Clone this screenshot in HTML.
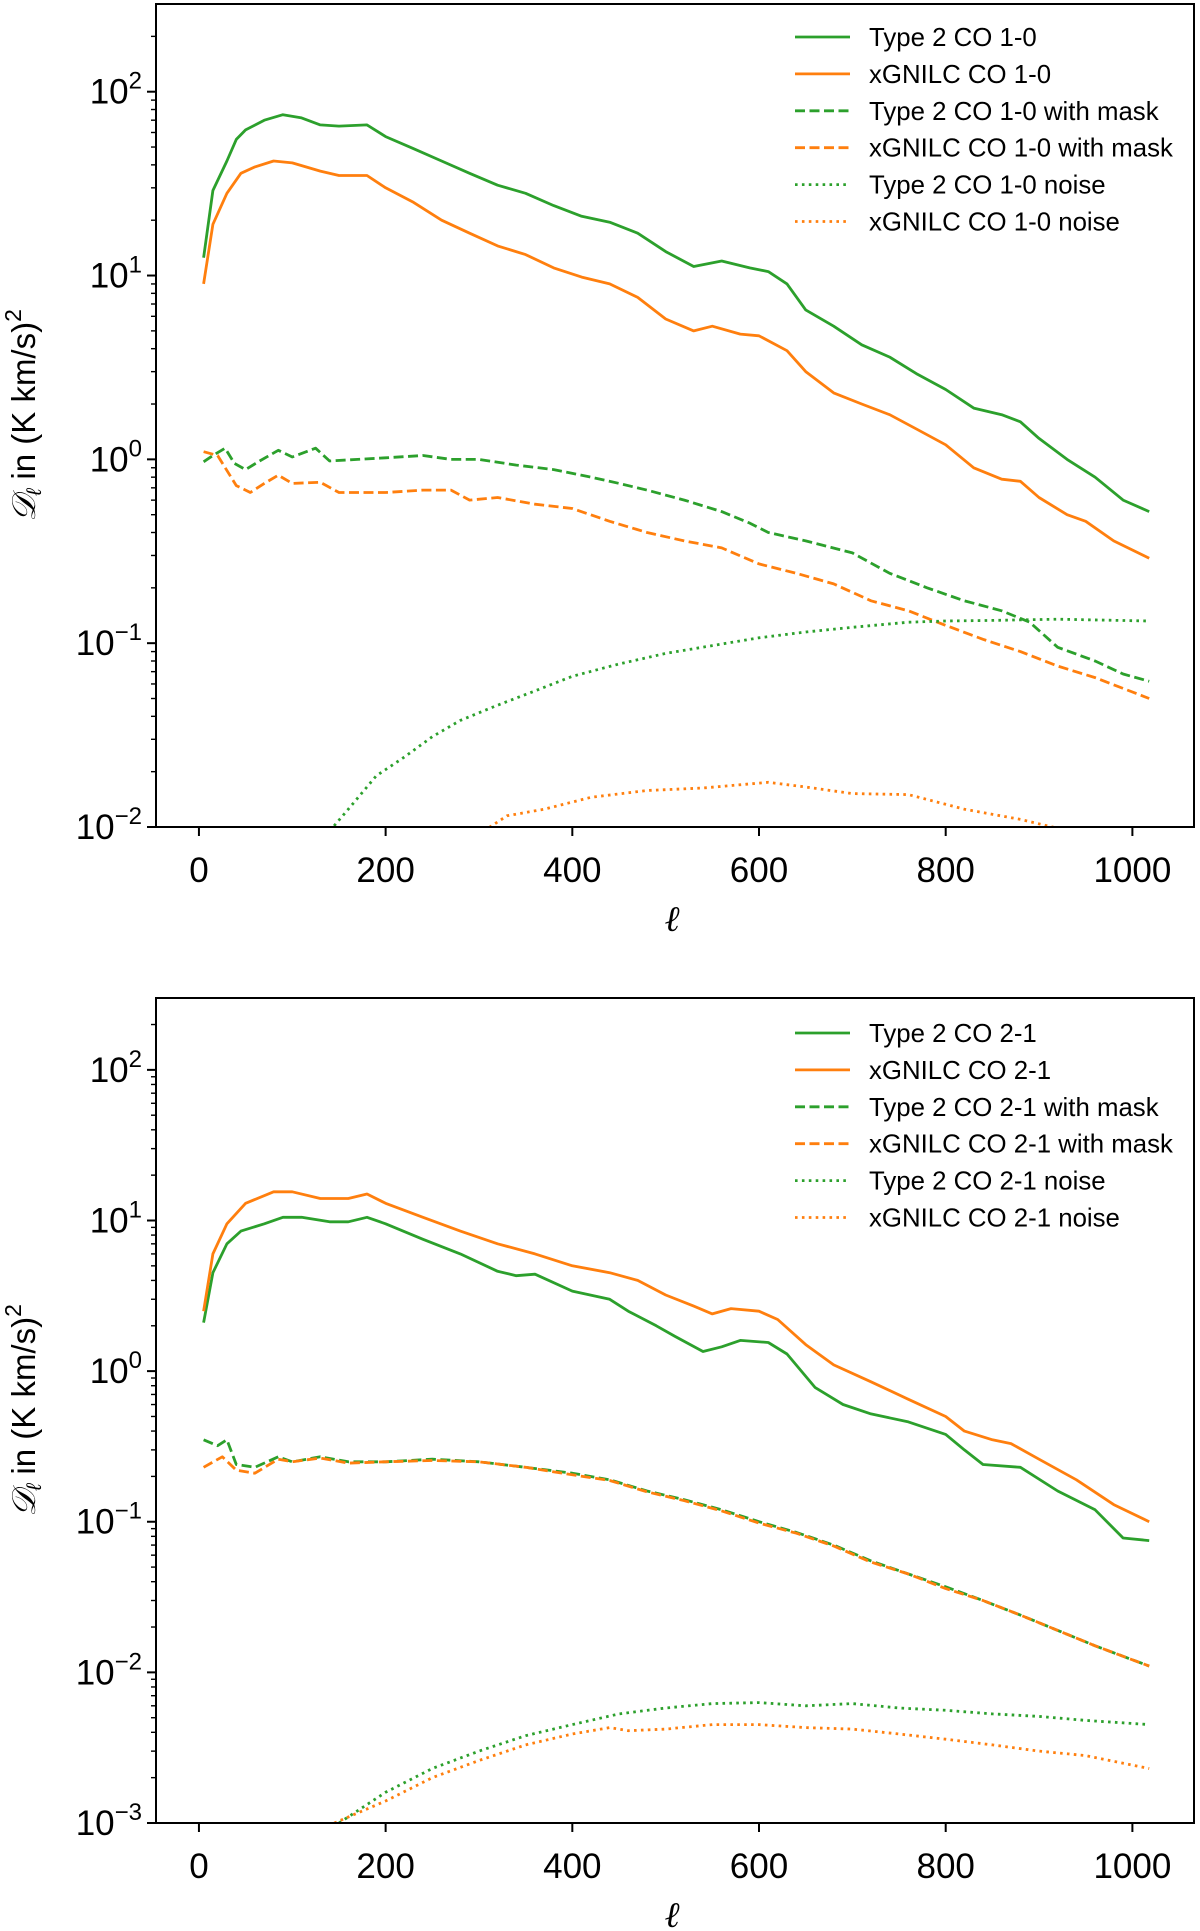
<!DOCTYPE html>
<html><head><meta charset="utf-8">
<style>
html,body{margin:0;padding:0;background:#fff;}
svg{display:block;font-family:"Liberation Sans",sans-serif;}
</style></head>
<body>
<svg id="fig" width="1200" height="1931" viewBox="0 0 1200 1931" xmlns="http://www.w3.org/2000/svg"></svg>
<script>
// ---- data (top panel: CO 1-0) ----
const t_g_sol_l = [5,15,30,40,50,70,90,110,130,150,180,200,230,260,290,320,350,380,410,440,470,500,530,560,590,610,630,650,680,710,740,770,800,830,860,880,900,930,960,990,1018];
const t_g_sol_v = [12.5,29,42,55,62,70,75,72,66,65,66,57,49,42,36,31,28,24,21,19.5,17,13.5,11.2,12,11,10.5,9,6.5,5.3,4.2,3.6,2.9,2.4,1.9,1.75,1.6,1.3,1.0,0.8,0.6,0.52];
const t_o_sol_l = [5,15,30,45,60,80,100,130,150,180,200,230,260,290,320,350,380,410,440,470,500,530,550,580,600,630,650,680,710,740,770,800,830,860,880,900,930,950,980,1018];
const t_o_sol_v = [9,19,28,36,39,42,41,37,35,35,30,25,20,17,14.5,13,11,9.8,9,7.6,5.8,5.0,5.3,4.8,4.7,3.9,3.0,2.3,2.0,1.75,1.45,1.2,0.9,0.78,0.76,0.62,0.5,0.46,0.36,0.29];
const t_g_msk_l = [5,15,28,38,50,65,85,100,125,140,170,200,240,270,300,340,380,420,450,480,520,560,590,610,650,700,740,780,820,860,890,920,960,990,1018];
const t_g_msk_v = [0.97,1.05,1.15,0.95,0.88,0.98,1.12,1.03,1.15,0.98,1.0,1.02,1.05,1.0,1.0,0.93,0.88,0.8,0.74,0.68,0.6,0.52,0.45,0.4,0.36,0.31,0.24,0.2,0.17,0.15,0.13,0.095,0.08,0.068,0.062];
const t_o_msk_l = [5,20,40,55,70,85,100,130,150,200,240,270,290,320,360,400,440,480,520,560,600,640,680,720,760,800,840,880,920,960,1018];
const t_o_msk_v = [1.1,1.05,0.72,0.66,0.74,0.82,0.74,0.75,0.66,0.66,0.68,0.68,0.6,0.62,0.57,0.54,0.46,0.4,0.36,0.33,0.27,0.24,0.21,0.17,0.15,0.125,0.105,0.09,0.075,0.065,0.05];
const t_g_noi_l = [140,160,190,220,250,280,320,360,400,450,500,550,600,650,700,760,800,850,920,1018];
const t_g_noi_v = [0.0095,0.0125,0.019,0.024,0.031,0.038,0.046,0.055,0.066,0.077,0.088,0.097,0.107,0.115,0.122,0.13,0.132,0.133,0.135,0.132];
const t_o_noi_l = [305,330,370,420,480,540,610,650,700,760,820,880,925];
const t_o_noi_v = [0.0095,0.0115,0.0125,0.0145,0.0158,0.0163,0.0175,0.0165,0.0152,0.015,0.0125,0.011,0.0097];
// ---- data (bottom panel: CO 2-1) ----
const b_o_sol_l = [5,15,30,50,80,100,130,160,180,200,240,280,320,360,400,440,470,500,530,550,570,600,620,650,680,720,760,800,820,850,870,900,940,980,1018];
const b_o_sol_v = [2.5,6,9.5,13,15.5,15.5,14,14,15,13,10.5,8.5,7,6,5,4.5,4,3.2,2.7,2.4,2.6,2.5,2.2,1.5,1.1,0.85,0.65,0.5,0.4,0.35,0.33,0.26,0.19,0.13,0.1];
const b_g_sol_l = [5,15,30,45,70,90,110,140,160,180,200,240,280,320,340,360,400,440,460,490,510,540,560,580,610,630,660,690,720,760,800,820,840,880,920,960,990,1018];
const b_g_sol_v = [2.1,4.5,7,8.5,9.5,10.5,10.5,9.8,9.8,10.5,9.5,7.5,6,4.6,4.3,4.4,3.4,3.0,2.5,2.0,1.7,1.35,1.45,1.6,1.55,1.3,0.78,0.6,0.52,0.46,0.38,0.3,0.24,0.23,0.16,0.12,0.078,0.075];
const b_g_msk_l = [5,20,30,40,60,85,100,130,160,200,250,300,350,400,440,480,520,560,600,640,680,720,760,800,840,880,920,960,1018];
const b_g_msk_v = [0.35,0.32,0.35,0.24,0.23,0.27,0.25,0.27,0.25,0.25,0.26,0.25,0.23,0.21,0.19,0.16,0.14,0.12,0.1,0.085,0.07,0.055,0.045,0.037,0.03,0.024,0.019,0.015,0.011];
const b_o_msk_l = [5,25,40,60,85,100,130,160,200,250,300,350,400,440,480,520,560,600,640,680,720,760,800,840,880,920,960,1018];
const b_o_msk_v = [0.23,0.27,0.22,0.21,0.26,0.25,0.265,0.245,0.25,0.255,0.25,0.23,0.205,0.188,0.158,0.138,0.118,0.098,0.084,0.069,0.054,0.045,0.036,0.03,0.024,0.019,0.015,0.011];
const b_g_noi_l = [150,200,250,300,350,400,450,500,550,600,650,700,750,800,850,900,950,1018];
const b_g_noi_v = [0.001,0.0016,0.0023,0.003,0.0038,0.0045,0.0053,0.0058,0.0062,0.0063,0.006,0.0062,0.0058,0.0056,0.0053,0.0051,0.0048,0.0045];
const b_o_noi_l = [145,200,250,300,350,400,440,460,500,550,600,650,700,750,800,850,900,950,1018];
const b_o_noi_v = [0.001,0.0014,0.002,0.0026,0.0033,0.0039,0.0043,0.0041,0.0042,0.0045,0.0045,0.0043,0.0042,0.0039,0.0036,0.0033,0.003,0.0028,0.0023];
const xTicks = [0,200,400,600,800,1000];
const topLegend = ["Type 2 CO 1-0","xGNILC CO 1-0","Type 2 CO 1-0 with mask","xGNILC CO 1-0 with mask","Type 2 CO 1-0 noise","xGNILC CO 1-0 noise"];
const botLegend = ["Type 2 CO 2-1","xGNILC CO 2-1","Type 2 CO 2-1 with mask","xGNILC CO 2-1 with mask","Type 2 CO 2-1 noise","xGNILC CO 2-1 noise"];
const topDecades = [-2,-1,0,1,2];
const botDecades = [-3,-2,-1,0,1,2];

const NS="http://www.w3.org/2000/svg";
const svg=document.getElementById('fig');
const G="#2ca02c", O="#ff7f0e";
function mk(tag,attrs,parent){const e=document.createElementNS(NS,tag);for(const k in attrs)e.setAttribute(k,attrs[k]);(parent||svg).appendChild(e);return e;}

function panel(id,top,bottom,logMin,logMax,decades,series,legend,legTop){
  const L=156,R=1194;
  const X=l=>L+(l+46)/(1112)*(R-L);
  const Y=v=>bottom-(Math.log10(v)-logMin)/(logMax-logMin)*(bottom-top);
  const g=mk('g',{});
  
  
  const cp=mk('clipPath',{id:id+'clip'},g);
  mk('rect',{x:L,y:top,width:R-L,height:bottom-top},cp);
  series.forEach(s=>{
    const d=s.l.map((l,i)=>(i?'L':'M')+X(l).toFixed(1)+','+Y(s.v[i]).toFixed(1)).join('');
    const p=mk('path',{d:d,fill:'none',stroke:s.c,'stroke-width':2.8,'stroke-linejoin':'round','clip-path':'url(#'+id+'clip)','stroke-dasharray':s.dash||'none'},g);
    
    
  });
  const fr=mk('rect',{x:L,y:top,width:R-L,height:bottom-top,fill:'none',stroke:'#000','stroke-width':2},g);
  
  
  xTicks.forEach(t=>{
    mk('line',{x1:X(t),x2:X(t),y1:bottom,y2:bottom+9,stroke:'#000','stroke-width':2},g);
    const tx=mk('text',{x:X(t),y:bottom+55,'font-size':35,'text-anchor':'middle'},g);
    tx.textContent=t;
    
    
  });
  decades.forEach(d=>{
    const y=Y(Math.pow(10,d));
    mk('line',{x1:L-9,x2:L,y1:y,y2:y,stroke:'#000','stroke-width':2},g);
    const tx=mk('text',{x:L-14,y:y+12,'font-size':35,'text-anchor':'end'},g);
    
    
    const a=document.createElementNS(NS,'tspan');a.textContent='10';tx.appendChild(a);
    const b=document.createElementNS(NS,'tspan');b.setAttribute('dy','-15');b.setAttribute('font-size','24');b.textContent=(d<0?'\u2212'+(-d):String(d));tx.appendChild(b);
  });
  for(let d=logMin-1;d<logMax;d++){for(let m=2;m<10;m++){const lv=d+Math.log10(m);if(lv<=logMin||lv>=logMax)continue;const y=Y(Math.pow(10,lv));mk('line',{x1:L-5,x2:L,y1:y,y2:y,stroke:'#000','stroke-width':1.4},g);}}
  const xl=mk('text',{x:(L+R)/2-3,y:bottom+104,'font-size':36,'font-style':'italic','font-family':'Liberation Serif,serif','text-anchor':'middle'},g);
  xl.textContent='ℓ';
  
  
  const cy=(top+bottom)/2;
  const yl=mk('text',{x:0,y:0,'font-size':33,'text-anchor':'middle',transform:'translate(35,'+cy+') rotate(-90)'},g);
  
  
  const s1=document.createElementNS(NS,'tspan');s1.setAttribute('font-family','Liberation Serif,serif');s1.setAttribute('font-style','italic');s1.textContent='𝒟';yl.appendChild(s1);
  const s2=document.createElementNS(NS,'tspan');s2.setAttribute('font-size','21');s2.setAttribute('dy','6');s2.setAttribute('font-style','italic');s2.textContent='ℓ';yl.appendChild(s2);
  const s3=document.createElementNS(NS,'tspan');s3.setAttribute('dy','-6');s3.textContent=' in (K km/s)';yl.appendChild(s3);
  const s4=document.createElementNS(NS,'tspan');s4.setAttribute('dy','-14');s4.setAttribute('font-size','23');s4.textContent='2';yl.appendChild(s4);
  const lg=mk('g',{},g);
  
  
  legend.forEach((txt,i)=>{
    const y=legTop+i*36.9;
    const s=series[i];
    const e=mk('g',{},lg);
    
    
    mk('line',{x1:795,x2:850,y1:y,y2:y,stroke:s.c,'stroke-width':2.8,'stroke-dasharray':s.dash||'none'},e);
    const t=mk('text',{x:869,y:y+9,'font-size':25.8},e);
    t.textContent=txt;
  });
}
panel('top',4,827,-2,Math.log10(300),topDecades,[
 {l:t_g_sol_l,v:t_g_sol_v,c:G,name:'type2-co10-line'},
 {l:t_o_sol_l,v:t_o_sol_v,c:O,name:'xgnilc-co10-line'},
 {l:t_g_msk_l,v:t_g_msk_v,c:G,dash:'10 4.5',name:'type2-co10-mask-line'},
 {l:t_o_msk_l,v:t_o_msk_v,c:O,dash:'10 4.5',name:'xgnilc-co10-mask-line'},
 {l:t_g_noi_l,v:t_g_noi_v,c:G,dash:'2.6 4.3',name:'type2-co10-noise-line'},
 {l:t_o_noi_l,v:t_o_noi_v,c:O,dash:'2.6 4.3',name:'xgnilc-co10-noise-line'}],topLegend,37);
panel('bottom',998,1823,-3,Math.log10(300),botDecades,[
 {l:b_g_sol_l,v:b_g_sol_v,c:G,name:'type2-co21-line'},
 {l:b_o_sol_l,v:b_o_sol_v,c:O,name:'xgnilc-co21-line'},
 {l:b_g_msk_l,v:b_g_msk_v,c:G,dash:'10 4.5',name:'type2-co21-mask-line'},
 {l:b_o_msk_l,v:b_o_msk_v,c:O,dash:'10 4.5',name:'xgnilc-co21-mask-line'},
 {l:b_g_noi_l,v:b_g_noi_v,c:G,dash:'2.6 4.3',name:'type2-co21-noise-line'},
 {l:b_o_noi_l,v:b_o_noi_v,c:O,dash:'2.6 4.3',name:'xgnilc-co21-noise-line'}],botLegend,1033);
</script>
</body></html>
